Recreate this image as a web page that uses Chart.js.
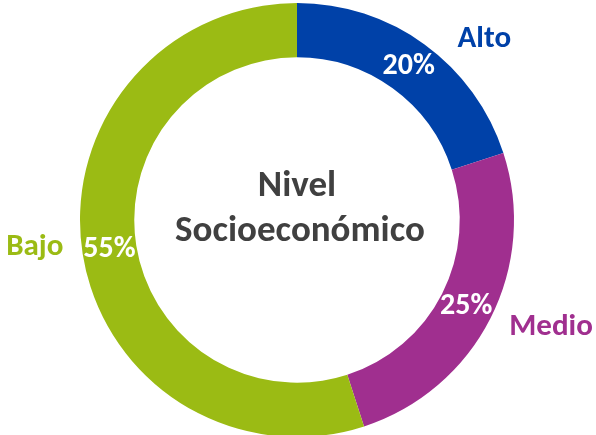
<!DOCTYPE html>
<html>
<head>
<meta charset="utf-8">
<script src="https://cdn.jsdelivr.net/npm/chart.js@4.4.1/dist/chart.umd.min.js"></script>
<style>
  html, body { margin: 0; padding: 0; background: #fff; overflow: hidden; }
  #wrap { position: relative; width: 596px; height: 440px; }
</style>
</head>
<body>
<div id="wrap"><canvas id="chart"></canvas></div>
<script>
const categories = ['Alto', 'Medio', 'Bajo'];
const shares = [20, 25, 55];
const colors = ['#0041a8', '#a02f8f', '#9bbb14'];
const centerTitle = ['Nivel', 'Socioeconómico'];

const FONT = "Carlito, 'Open Sans', sans-serif";

// where the category names sit: angle (deg, clockwise from top) and distance as a share of the outer radius
const namePlacement = {
  Alto: { angle: 46, dist: 1.20 },
  Medio: { angle: 112.8, dist: 1.27 },
  Bajo: { angle: 264, dist: 1.215 }
};

const labelsPlugin = {
  id: 'donutLabels',
  afterDatasetsDraw(chart) {
    const { ctx } = chart;
    const meta = chart.getDatasetMeta(0);
    const first = meta.data[0];
    const cx = first.x, cy = first.y, outer = first.outerRadius;

    ctx.save();
    ctx.textAlign = 'center';
    ctx.textBaseline = 'middle';

    meta.data.forEach((arc, i) => {
      const pos = arc.tooltipPosition();
      ctx.fillStyle = '#ffffff';
      ctx.font = 'bold 30px ' + FONT;
      ctx.fillText(shares[i] + '%', pos.x, pos.y);

      const p = namePlacement[categories[i]];
      const a = p.angle * Math.PI / 180;
      ctx.fillStyle = colors[i];
      ctx.font = 'bold 31px ' + FONT;
      ctx.fillText(categories[i], cx + Math.sin(a) * outer * p.dist, cy - Math.cos(a) * outer * p.dist);
    });

    ctx.fillStyle = '#404040';
    ctx.font = 'bold 37px ' + FONT;
    ctx.fillText(centerTitle[0], cx, cy - 33);
    ctx.fillText(centerTitle[1], cx + 3, cy + 12);
    ctx.restore();
  }
};

new Chart(document.getElementById('chart'), {
  type: 'doughnut',
  data: {
    labels: categories,
    datasets: [{
      data: shares,
      backgroundColor: colors,
      borderWidth: 0
    }]
  },
  options: {
    responsive: true,
    maintainAspectRatio: false,
    animation: false,
    cutout: '75%',
    layout: { padding: { left: 80, right: 82, top: 3, bottom: 3 } },
    plugins: {
      legend: { display: false },
      tooltip: { enabled: false }
    }
  },
  plugins: [labelsPlugin]
});
</script>
</body>
</html>
